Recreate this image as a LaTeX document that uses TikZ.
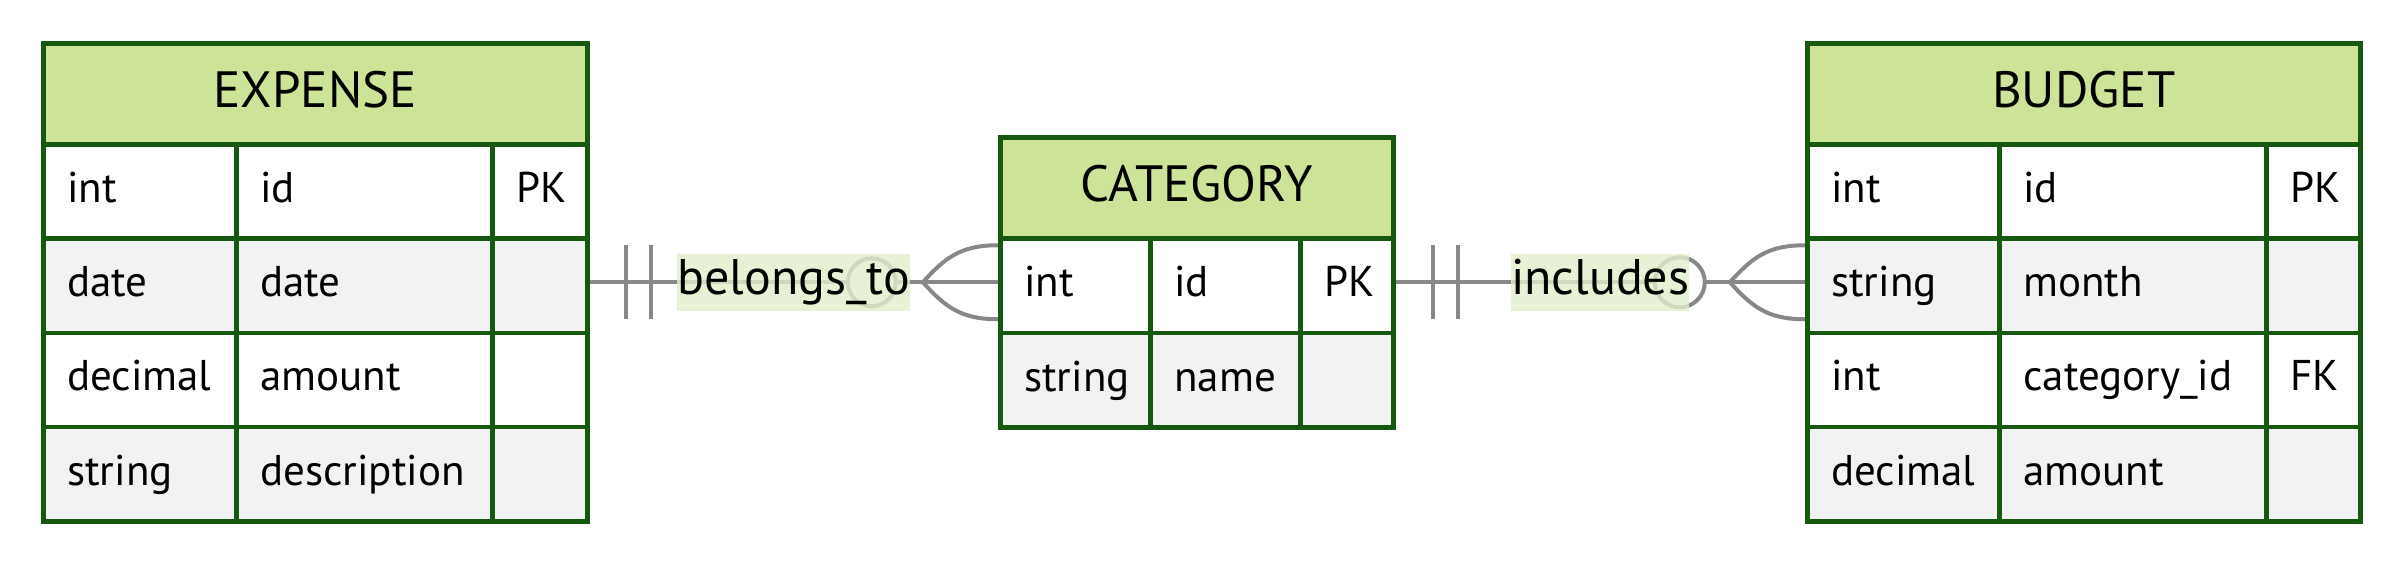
\documentclass[tikz,border=0pt]{standalone}
\usepackage{fontspec}
\setmainfont{PT Sans}
\usetikzlibrary{fit,calc}
\definecolor{bd}{RGB}{22,88,16}
\definecolor{hd}{RGB}{205,228,152}
\definecolor{alt}{RGB}{242,242,242}
\definecolor{ln}{RGB}{136,136,136}
\definecolor{lb}{RGB}{226,238,203}
\tikzset{
 cellbox/.style={draw=bd, line width=4.5pt, inner xsep=24pt, inner ysep=0pt, anchor=north west,
   text height=30pt, text depth=8pt, align=left, font=\fontsize{43}{50}\selectfont},
 hdrbox/.style={draw=bd, line width=4.5pt, fill=hd, inner sep=0pt, anchor=north west,
   text height=36pt, text depth=8pt, font=\fontsize{51}{60}\selectfont},
 conn/.style={draw=ln, line width=4pt},
 relabel/.style={fill=lb, fill opacity=0.8, text opacity=1, inner xsep=0pt, inner ysep=0pt,
   minimum height=57pt, text height=36pt, text depth=11pt, font=\fontsize{50}{60}\selectfont}
}
\begin{document}
\begin{tikzpicture}[x=1pt,y=-1pt]
\useasboundingbox (0,0) rectangle (2400,560);
\fill[white] (0,0) rectangle (2400,560);

% EXPENSE
\node[hdrbox, minimum width=544pt, minimum height=101pt] (exp) at (41,41) {EXPENSE};
\foreach \i/\ty/\nm/\key/\fl in {1/int/id/PK/white, 2/date/date//alt, 3/decimal/amount//white, 4/string/description//alt}{
  \node[cellbox, fill=\fl, minimum width=193pt, text width=145pt, minimum height=94.25pt] (exp-\i-t) at (41,{142+(\i-1)*94.25}) {\ty};
  \node[cellbox, fill=\fl, minimum width=256pt, text width=208pt, minimum height=94.25pt] (exp-\i-n) at (234,{142+(\i-1)*94.25}) {\nm};
  \node[cellbox, fill=\fl, minimum width=95pt, text width=47pt, minimum height=94.25pt] (exp-\i-k) at (490,{142+(\i-1)*94.25}) {\key};
}

% CATEGORY
\node[hdrbox, minimum width=393pt, minimum height=101pt] (cat) at (998,135) {CATEGORY};
\foreach \i/\ty/\nm/\key/\fl in {1/int/id/PK/white, 2/string/name//alt}{
  \node[cellbox, fill=\fl, minimum width=150pt, text width=102pt, minimum height=94.5pt] (cat-\i-t) at (998,{236+(\i-1)*94.5}) {\ty};
  \node[cellbox, fill=\fl, minimum width=150pt, text width=102pt, minimum height=94.5pt] (cat-\i-n) at (1148,{236+(\i-1)*94.5}) {\nm};
  \node[cellbox, fill=\fl, minimum width=93pt, text width=45pt, minimum height=94.5pt] (cat-\i-k) at (1298,{236+(\i-1)*94.5}) {\key};
}

% BUDGET
\node[hdrbox, minimum width=553pt, minimum height=101pt] (bud) at (1805,41) {BUDGET};
\foreach \i/\ty/\nm/\key/\fl in {1/int/id/PK/white, 2/string/month//alt, 3/int/category\_id/FK/white, 4/decimal/amount//alt}{
  \node[cellbox, fill=\fl, minimum width=192pt, text width=144pt, minimum height=94.25pt] (bud-\i-t) at (1805,{142+(\i-1)*94.25}) {\ty};
  \node[cellbox, fill=\fl, minimum width=267pt, text width=219pt, minimum height=94.25pt] (bud-\i-n) at (1997,{142+(\i-1)*94.25}) {\nm};
  \node[cellbox, fill=\fl, minimum width=94pt, text width=46pt, minimum height=94.25pt] (bud-\i-k) at (2264,{142+(\i-1)*94.25}) {\key};
}

\node[fit=(exp)(exp-4-k), inner sep=0pt] (E) {};
\node[fit=(cat)(cat-2-k), inner sep=0pt] (C) {};
\node[fit=(bud)(bud-4-k), inner sep=0pt] (B) {};

% relation 1: EXPENSE ||--o{ CATEGORY
\draw[conn] (E.east) -- (C.west);
\draw[conn] ([xshift=36pt,yshift=37pt]E.east) -- ([xshift=36pt,yshift=-37pt]E.east);
\draw[conn] ([xshift=61pt,yshift=37pt]E.east) -- ([xshift=61pt,yshift=-37pt]E.east);
\draw[conn, fill=white] ([xshift=-126pt]C.west) circle (24pt);
\draw[conn] ([xshift=-75pt]C.west) .. controls +(22pt,24pt) and +(-38pt,0pt) .. ([yshift=37pt]C.west);
\draw[conn] ([xshift=-75pt]C.west) .. controls +(22pt,-24pt) and +(-38pt,0pt) .. ([yshift=-37pt]C.west);
\path (E.east) -- (C.west) node[midway, relabel] (l1) {belongs\_to};

% relation 2: CATEGORY ||--o{ BUDGET
\draw[conn] (C.east) -- (B.west);
\draw[conn] ([xshift=37pt,yshift=37pt]C.east) -- ([xshift=37pt,yshift=-37pt]C.east);
\draw[conn] ([xshift=62pt,yshift=37pt]C.east) -- ([xshift=62pt,yshift=-37pt]C.east);
\draw[conn, fill=white] ([xshift=-125pt]B.west) circle (25pt);
\draw[conn] ([xshift=-75pt]B.west) .. controls +(22pt,24pt) and +(-38pt,0pt) .. ([yshift=37pt]B.west);
\draw[conn] ([xshift=-75pt]B.west) .. controls +(22pt,-24pt) and +(-38pt,0pt) .. ([yshift=-37pt]B.west);
\path (C.east) -- (B.west) node[midway, relabel] (l2) {includes};
\end{tikzpicture}
\end{document}
